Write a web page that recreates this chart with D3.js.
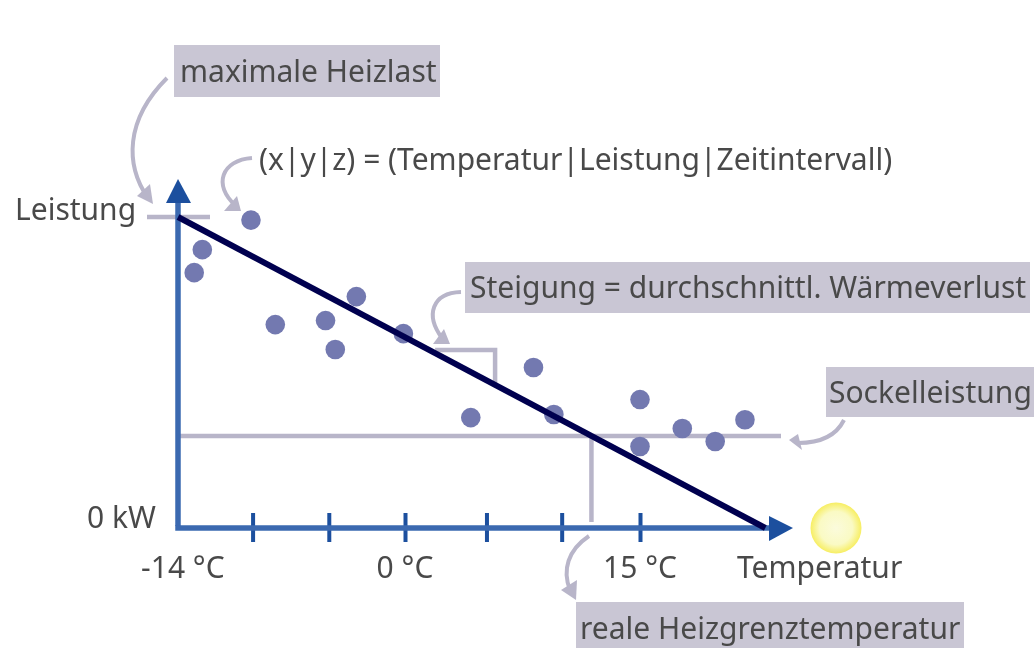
<!DOCTYPE html>
<html>
<head>
<meta charset="utf-8">
<script src="https://cdn.jsdelivr.net/npm/d3@7"></script>
<style>
  html, body { margin: 0; padding: 0; background: #fff; }
  svg { display: block; }
  text { font-family: "Noto Sans", sans-serif; font-size: 30px; fill: #4a4a4a; }
</style>
</head>
<body>
<svg id="chart" width="1034" height="648"></svg>
<script>
// temperature in deg C, load in percent of the maximum load
const pointTemps = [-9.5, -12.5, -13, -8, -4.9, -4.3, -3, -0.1, 8.2, 4.2, 9.5, 15, 15, 17.7, 19.8, 21.7];
const pointLoads = [99, 89.5, 82.1, 65.4, 66.7, 57.4, 74.4, 62.5, 51.6, 35.5, 36.5, 41.3, 26.2, 32, 27.8, 34.8];
const tickTemps = [-9.4, -4.7, 0, 5.2, 10, 15];
const labelTemps = [-13.7, 0, 15];
const labelTexts = ['-14 °C', '0 °C', '15 °C'];
const fitTemps = [-14, 23];
const fitLoads = [100, 0];
const baseLoad = 29.6;
const limitTemp = 11.9;
const slopeTemp = 5.75;

const blue = '#1a4f9e', axisBlue = '#3b69b0', navy = '#05054f', dot = '#7379b0';
const grey = '#b8b5c9', box = '#c9c6d4';

const x = d3.scaleLinear().domain([-14, 0, 15]).range([178, 405, 640]);
const y = d3.scaleLinear().domain([0, 100]).range([528, 217]);
const fitLoadAt = d3.scaleLinear().domain(fitTemps).range(fitLoads);

const svg = d3.select('#chart');
const defs = svg.append('defs');
defs.append('filter').attr('id', 'soft')
  .append('feGaussianBlur').attr('stdDeviation', 0.75);
const sunGrad = defs.append('radialGradient').attr('id', 'sun');
sunGrad.append('stop').attr('offset', '0%').attr('stop-color', '#fbfbdc');
sunGrad.append('stop').attr('offset', '65%').attr('stop-color', '#fafac4');
sunGrad.append('stop').attr('offset', '100%').attr('stop-color', '#f7ee62');

const root = svg.append('g').attr('filter', 'url(#soft)');

function line(x1, y1, x2, y2, color, width) {
  return root.append('line')
    .attr('x1', x1).attr('y1', y1).attr('x2', x2).attr('y2', y2)
    .attr('stroke', color).attr('stroke-width', width);
}

// label boxes
[[174, 45, 266, 52], [465, 262, 565, 51], [826, 367, 208, 50], [576, 602, 388, 46]].forEach((b) => {
  root.append('rect').attr('x', b[0]).attr('y', b[1]).attr('width', b[2]).attr('height', b[3]).attr('fill', box);
});

// helper lines
line(147, y(100), 210, y(100), grey, 4.5);
line(x(-14), y(baseLoad), 781, y(baseLoad), grey, 4.5);
line(x(limitTemp), y(baseLoad), x(limitTemp), 522, grey, 4.5);

// curved pointers with their heads
const pointers = [
  { from: [167, 78], c1: [125, 120], c2: [125, 165], to: [148, 198], head: [[153, 204], [137, 196], [150, 184]] },
  { from: [252, 158], c1: [222, 160], c2: [212, 185], to: [236, 206], head: [[241, 211], [224, 211], [237, 196]] },
  { from: [461, 292], c1: [432, 293], c2: [425, 315], to: [442, 338], head: [[450, 344], [433, 344], [444, 329]] },
  { from: [844, 420], c1: [836, 436], c2: [820, 443], to: [798, 443], head: [[789, 440], [802, 450], [798, 434]] },
  { from: [589, 536], c1: [568, 550], c2: [562, 570], to: [570, 590], head: [[576, 600], [561, 590], [577, 580]] }
];
pointers.forEach((p) => {
  const path = d3.path();
  path.moveTo(p.from[0], p.from[1]);
  path.bezierCurveTo(p.c1[0], p.c1[1], p.c2[0], p.c2[1], p.to[0], p.to[1]);
  root.append('path').attr('d', path.toString()).attr('fill', 'none').attr('stroke', grey).attr('stroke-width', 4);
  root.append('polygon').attr('points', p.head.join(' ')).attr('fill', grey);
});

// axes
line(x(-14), 526, x(-14), 195, axisBlue, 5.5);
root.append('polygon').attr('points', [[178, 179], [166, 203], [191, 203]].join(' ')).attr('fill', blue);

const xAxis = d3.axisBottom(x).tickValues(tickTemps).tickFormat('').tickSizeOuter(0);
const axisG = root.append('g').attr('transform', 'translate(0,528)').call(xAxis);
axisG.select('.domain').remove();
axisG.selectAll('.tick line').attr('y1', -15).attr('y2', 14).attr('stroke', blue).attr('stroke-width', 4);
line(x(-14) - 2.75, 528, 770, 528, axisBlue, 5.5);
root.append('polygon').attr('points', [[793, 528], [769, 516], [769, 541]].join(' ')).attr('fill', blue);

// slope triangle
root.append('path')
  .attr('d', d3.line()([[x(slopeTemp) - 60, y(fitLoadAt(slopeTemp)) - 33], [x(slopeTemp), y(fitLoadAt(slopeTemp)) - 33], [x(slopeTemp), y(fitLoadAt(slopeTemp))]]))
  .attr('fill', 'none').attr('stroke', grey).attr('stroke-width', 4.5);

// measured points
root.append('g').selectAll('circle')
  .data(pointTemps)
  .enter()
  .append('circle')
  .attr('cx', (d) => x(d))
  .attr('cy', (d, i) => y(pointLoads[i]))
  .attr('r', 9.8)
  .attr('fill', dot);

// fit line
line(x(fitTemps[0]), y(fitLoads[0]), x(fitTemps[1]), y(fitLoads[1]), navy, 6);

// sun
root.append('circle').attr('cx', 836).attr('cy', 528).attr('r', 25.5).attr('fill', 'url(#sun)');

// tick labels
root.append('g').selectAll('text')
  .data(labelTexts)
  .enter()
  .append('text')
  .attr('x', (d, i) => x(labelTemps[i]))
  .attr('y', 578)
  .attr('text-anchor', 'middle')
  .text((d) => d);

function label(px, py, str) {
  root.append('text').attr('x', px).attr('y', py).text(str);
}
label(180, 82, 'maximale Heizlast');
label(259, 170, '(x|y|z) = (Temperatur|Leistung|Zeitintervall)');
label(470, 298, 'Steigung = durchschnittl. Wärmeverlust');
label(829, 403, 'Sockelleistung');
label(580, 639, 'reale Heizgrenztemperatur');
label(15, 220, 'Leistung');
label(87, 528, '0 kW');
label(737, 578, 'Temperatur');
</script>
</body>
</html>
